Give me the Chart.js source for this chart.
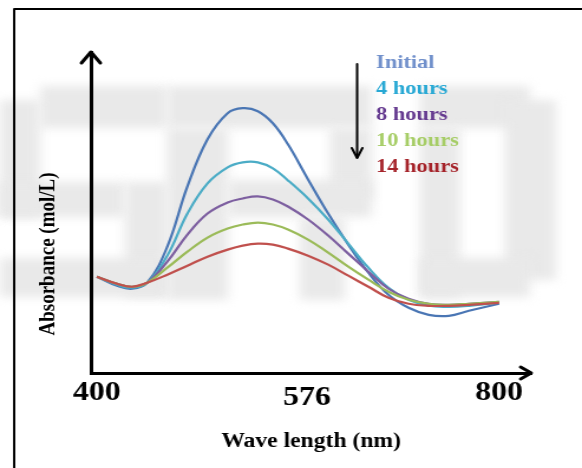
<!DOCTYPE html>
<html>
<head>
<meta charset="utf-8">
<script src="https://cdn.jsdelivr.net/npm/chart.js@4.4.1/dist/chart.umd.min.js"></script>
<style>
  html, body { margin: 0; padding: 0; background: #fff; }
</style>
</head>
<body>
<!-- the source figure is stretched sideways, so the canvas is drawn narrow and widened by css -->
<canvas id="myChart" width="493" height="468" style="width:582px;height:468px"></canvas>
<script>
// data (absorbance, arbitrary units)
const wavelengths = [400, 420, 435, 450, 470, 490, 510, 530, 545, 560, 575, 590, 610, 630, 650, 670, 690, 710, 730, 750, 770, 800]
const initial  = [0.48, 0.435, 0.42, 0.45, 0.63, 0.93, 1.165, 1.295, 1.32, 1.305, 1.245, 1.14, 0.965, 0.795, 0.64, 0.50, 0.39, 0.325, 0.29, 0.285, 0.31, 0.345]
const hours4   = [0.48, 0.44, 0.425, 0.45, 0.585, 0.795, 0.945, 1.025, 1.05, 1.05, 1.02, 0.96, 0.87, 0.765, 0.645, 0.525, 0.425, 0.365, 0.335, 0.33, 0.335, 0.35]
const hours8   = [0.48, 0.445, 0.43, 0.45, 0.555, 0.69, 0.795, 0.85, 0.87, 0.88, 0.865, 0.83, 0.765, 0.685, 0.595, 0.505, 0.42, 0.37, 0.345, 0.34, 0.345, 0.355]
const hours10  = [0.48, 0.445, 0.43, 0.45, 0.525, 0.605, 0.675, 0.72, 0.74, 0.75, 0.74, 0.715, 0.665, 0.60, 0.53, 0.465, 0.405, 0.365, 0.345, 0.34, 0.345, 0.355]
const hours14  = [0.48, 0.445, 0.43, 0.45, 0.49, 0.535, 0.58, 0.615, 0.635, 0.645, 0.64, 0.62, 0.585, 0.54, 0.485, 0.43, 0.375, 0.345, 0.335, 0.335, 0.34, 0.35]

const seriesNames = ['Initial', '4 hours', '8 hours', '10 hours', '14 hours']
const tickLabels = ['400', '576', '800']
const tickAt = [400, 609, 800]   // where the source puts each label along the axis
const xTitle = 'Wave length (nm)'
const yTitle = 'Absorbance (mol/L)'

const lineColors = ['#4a76b4', '#4bacc6', '#7d5fa0', '#9bbb59', '#c0504d']
const labelColors = ['#7190cb', '#27a8d4', '#64398f', '#a6cd66', '#a52229']
const STRETCH = 582 / 493
const serif = '"Liberation Serif", "Times New Roman", serif'

function toPoints(arr) {
  return arr.map((v, i) => ({ x: wavelengths[i], y: v }))
}

// faint grey watermark behind the plot
const watermark = {
  id: 'watermark',
  beforeDraw(chart) {
    const c = chart.ctx
    c.save()
    c.scale(1 / STRETCH, 1)
    c.filter = 'blur(5px)'
    c.fillStyle = '#e9e9e9'
    const blocks = [
      [40, 86, 167, 128], [0, 100, 40, 217], [0, 182, 125, 217], [125, 182, 167, 297], [0, 258, 167, 297],
      [167, 86, 372, 128], [167, 128, 228, 300], [330, 128, 372, 200], [228, 180, 372, 217], [300, 217, 345, 300],
      [420, 86, 530, 128], [420, 128, 460, 297], [505, 100, 556, 280], [420, 258, 530, 297]
    ]
    for (let i = 0; i < blocks.length; i++) {
      const b = blocks[i]
      c.fillRect(b[0], b[1], b[2] - b[0], b[3] - b[1])
    }
    c.restore()
  }
}

// frame, arrow heads, legend text, down arrow, y title
const decorations = {
  id: 'decorations',
  afterDraw(chart) {
    const c = chart.ctx
    const a = chart.chartArea
    c.save()
    c.strokeStyle = '#000'
    c.lineCap = 'round'
    c.lineJoin = 'round'

    // frame
    c.lineWidth = 2
    c.beginPath()
    c.moveTo(12, 468)
    c.lineTo(12, 9)
    c.lineTo(493, 9)
    c.stroke()

    // arrow heads on the axes
    c.lineWidth = 3
    c.beginPath()
    c.moveTo(a.left - 8, a.top + 11)
    c.lineTo(a.left, a.top)
    c.lineTo(a.left + 8, a.top + 11)
    c.stroke()
    c.beginPath()
    c.moveTo(a.right - 9, a.bottom - 6)
    c.lineTo(a.right, a.bottom)
    c.lineTo(a.right - 9, a.bottom + 6)
    c.stroke()

    // down arrow beside the legend
    c.lineWidth = 2
    c.beginPath()
    c.moveTo(302.5, 64)
    c.lineTo(302.5, 157)
    c.stroke()
    c.beginPath()
    c.moveTo(298, 148)
    c.lineTo(302.5, 158)
    c.lineTo(307, 148)
    c.stroke()

    // legend text
    c.font = 'bold 19px ' + serif
    c.textAlign = 'left'
    c.textBaseline = 'middle'
    for (let i = 0; i < seriesNames.length; i++) {
      c.fillStyle = labelColors[i]
      c.fillText(seriesNames[i], 318.5, 63 + i * 26)
    }

    // y title
    c.translate(41, 254)
    c.rotate(-Math.PI / 2)
    c.textAlign = 'center'
    c.fillStyle = '#000'
    c.font = 'bold 19px ' + serif
    c.fillText(yTitle, 0, 0)
    c.restore()
  }
}

const ctx = document.getElementById('myChart').getContext('2d')

const data = {
  datasets: seriesNames.map((name, i) => ({
    label: name,
    data: toPoints([initial, hours4, hours8, hours10, hours14][i]),
    borderColor: lineColors[i],
    borderWidth: 2.2,
    pointRadius: 0,
    tension: 0.4,
    fill: false
  })).reverse()
}

let myChart = new Chart(ctx, {
  type: 'line',
  data: data,
  options: {
    responsive: false,
    animation: false,
    devicePixelRatio: 1,
    layout: { padding: { top: 52, right: 43, left: 0, bottom: 0 } },
    plugins: {
      legend: { display: false },
      tooltip: { enabled: false }
    },
    scales: {
      x: {
        type: 'linear',
        min: 394,
        max: 832,
        grid: { display: false, drawTicks: false },
        border: { display: true, color: '#000', width: 3 },
        afterBuildTicks: (scale) => {
          scale.ticks = tickAt.map(v => ({ value: v }))
        },
        afterFit: (scale) => { scale.height = 95 },
        ticks: {
          autoSkip: false,
          maxRotation: 0,
          padding: 5,
          color: '#000',
          font: (c) => ({ family: serif, size: 27, weight: 'bold', lineHeight: c.index === 1 ? 1.5 : 1.15 }),
          callback: (v, i) => tickLabels[i]
        },
        title: {
          display: true,
          text: xTitle,
          color: '#000',
          font: { family: serif, size: 20, weight: 'bold' },
          padding: { top: 0, bottom: 14 }
        }
      },
      y: {
        min: 0,
        max: 1.6,
        grid: { display: false, drawTicks: false },
        border: { display: true, color: '#000', width: 3 },
        ticks: { display: false },
        afterFit: (scale) => { scale.width = 77 }
      }
    }
  },
  plugins: [watermark, decorations]
})
</script>
</body>
</html>
